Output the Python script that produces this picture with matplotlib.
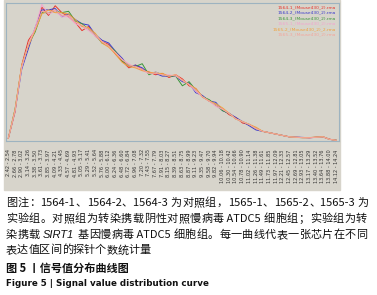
import numpy as np
import matplotlib.pyplot as plt

plt.rcParams['font.family'] = ['Noto Sans CJK SC', 'DejaVu Sans']

# bin lower edges (every other bin is labelled)
bin_lo = [2.42, 2.66, 2.90, 3.14, 3.38, 3.61, 3.85, 4.09, 4.33, 4.57,
          4.81, 5.05, 5.29, 5.52, 5.76, 6.00, 6.24, 6.48, 6.72, 6.96,
          7.20, 7.43, 7.67, 7.91, 8.15, 8.39, 8.63, 8.87, 9.11, 9.35,
          9.58, 9.82, 10.06, 10.30, 10.54, 10.78, 11.02, 11.26, 11.49, 11.73,
          11.97, 12.21, 12.45, 12.69, 12.93, 13.17, 13.40, 13.64, 13.88, 14.12]
bin_hi = [v + 0.12 for v in bin_lo]
tick_labels = ['%.2f - %.2f' % (a, b) for a, b in zip(bin_lo, bin_hi)]

names = ['1564-1_(Mouse430_2).rma', '1564-2_(Mouse430_2).rma',
         '1564-3_(Mouse430_2).rma', '1565-1_(Mouse430_2).rma',
         '1565-2_(Mouse430_2)_2.rma', '1565-3_(Mouse430_2).rma']
colors = ['#e8342c', '#3b3bcc', '#3a963a', '#f2a6cf', '#f0a23c', '#f4a59c']

s1564_1 = [0.02, 0.21, 0.55, 0.73, 0.80, 0.97, 0.91, 0.98, 0.93, 0.90,
           0.86, 0.80, 0.83, 0.76, 0.72, 0.70, 0.63, 0.58, 0.53, 0.55,
           0.52, 0.50, 0.48, 0.49, 0.46, 0.48, 0.45, 0.40, 0.38, 0.32,
           0.29, 0.26, 0.23, 0.19, 0.17, 0.13, 0.12, 0.09, 0.07, 0.06,
           0.05, 0.04, 0.03, 0.027, 0.025, 0.023, 0.028, 0.03, 0.013, 0.005]
s1564_2 = [0.02, 0.22, 0.52, 0.67, 0.82, 0.95, 0.95, 0.96, 0.90, 0.92,
           0.88, 0.85, 0.84, 0.77, 0.73, 0.71, 0.65, 0.60, 0.54, 0.55,
           0.53, 0.49, 0.49, 0.47, 0.47, 0.47, 0.43, 0.42, 0.35, 0.33,
           0.29, 0.28, 0.22, 0.20, 0.17, 0.14, 0.11, 0.08, 0.07, 0.06,
           0.05, 0.04, 0.03, 0.028, 0.026, 0.024, 0.026, 0.03, 0.012, 0.005]
s1564_3 = [0.02, 0.23, 0.54, 0.70, 0.79, 0.93, 0.93, 0.94, 0.93, 0.94,
           0.87, 0.85, 0.81, 0.77, 0.71, 0.69, 0.65, 0.58, 0.55, 0.54,
           0.56, 0.48, 0.50, 0.48, 0.47, 0.47, 0.40, 0.43, 0.37, 0.32,
           0.30, 0.26, 0.22, 0.20, 0.16, 0.14, 0.12, 0.09, 0.07, 0.06,
           0.05, 0.04, 0.03, 0.026, 0.024, 0.025, 0.027, 0.03, 0.012, 0.005]
s1565_1 = [0.02, 0.22, 0.53, 0.70, 0.82, 0.99, 0.92, 0.94, 0.90, 0.90,
           0.85, 0.83, 0.80, 0.76, 0.72, 0.68, 0.64, 0.59, 0.56, 0.53,
           0.51, 0.49, 0.50, 0.48, 0.48, 0.47, 0.44, 0.41, 0.36, 0.32,
           0.29, 0.25, 0.23, 0.20, 0.16, 0.14, 0.12, 0.09, 0.07, 0.06,
           0.05, 0.04, 0.03, 0.027, 0.024, 0.024, 0.027, 0.03, 0.012, 0.004]
s1565_2 = [0.02, 0.23, 0.55, 0.69, 0.80, 0.92, 0.95, 0.93, 0.93, 0.92,
           0.88, 0.83, 0.82, 0.78, 0.71, 0.68, 0.63, 0.57, 0.54, 0.53,
           0.51, 0.50, 0.49, 0.49, 0.47, 0.48, 0.44, 0.41, 0.38, 0.32,
           0.29, 0.27, 0.24, 0.20, 0.16, 0.14, 0.12, 0.10, 0.07, 0.06,
           0.05, 0.04, 0.03, 0.027, 0.024, 0.025, 0.028, 0.031, 0.012, 0.005]
s1565_3 = [0.02, 0.22, 0.54, 0.70, 0.81, 0.94, 0.93, 0.95, 0.91, 0.91,
           0.86, 0.84, 0.81, 0.77, 0.72, 0.69, 0.64, 0.59, 0.55, 0.54,
           0.52, 0.49, 0.49, 0.48, 0.47, 0.48, 0.44, 0.41, 0.37, 0.32,
           0.29, 0.26, 0.23, 0.20, 0.16, 0.14, 0.12, 0.09, 0.07, 0.06,
           0.05, 0.04, 0.03, 0.027, 0.024, 0.024, 0.027, 0.03, 0.012, 0.005]
series = [s1564_1, s1564_2, s1564_3, s1565_1, s1565_2, s1565_3]

W, H = 377, 295
fig = plt.figure(figsize=(W / 100, H / 100), dpi=100)
fig.patch.set_facecolor('white')

# gray panel behind plot + tick labels
panel = plt.Rectangle((4 / W, 1 - 190 / H), 336 / W, 190 / H,
                      transform=fig.transFigure, color='#d7d4cb', zorder=-5)
fig.patches.append(panel)

ax = fig.add_axes([6 / W, 1 - 141 / H, 333 / W, 138 / H])
ax.set_zorder(2)
ax.set_facecolor('#d7d4cb')
for sp in ax.spines.values():
    sp.set_color('#9db3c0')
    sp.set_linewidth(0.8)

x = np.arange(len(bin_lo))
for ys, c in zip(series, colors):
    ax.plot(x, ys, color=c, lw=0.7)

ax.set_xlim(-0.35, 49.4)
ax.set_ylim(0, 1.0)
ax.set_yticks([])
ax.set_xticks(x)
ax.set_xticklabels(tick_labels, rotation=90, fontsize=3.6, color='#333333',
                   family='DejaVu Sans')
ax.tick_params(axis='x', length=0, pad=6)

# legend text, right aligned in the top corner
for i, (n, c) in enumerate(zip(names, colors)):
    ax.text(0.99, 0.985 - i * 0.04, n, transform=ax.transAxes, ha='right',
            va='top', fontsize=3.2, color=c, family='DejaVu Sans')

# caption
fig.canvas.draw()
r = fig.canvas.get_renderer()


def tokens(s):
    out, buf = [], ''
    for ch in s:
        if ord(ch) > 0x2000:
            if buf:
                out.append(buf)
                buf = ''
            out.append(ch)
        else:
            buf += ch
    if buf:
        out.append(buf)
    return out


def line(pieces, y, width=None, size=8, color='#111111'):
    toks = []
    for txt, style in pieces:
        for t in tokens(txt):
            toks.append((t, style))
    arts = []
    for t, style in toks:
        if style == 'italic':
            a = fig.text(0, 1 - y / H, t, fontsize=size, color=color,
                         va='center', style='italic', family='Liberation Sans')
        else:
            a = fig.text(0, 1 - y / H, t, fontsize=size, color=color,
                         va='center', weight='medium')
        arts.append(a)
    ws = [a.get_window_extent(r).width for a in arts]
    gap = 0
    if width is not None and len(ws) > 1:
        gap = (width - sum(ws)) / (len(ws) - 1)
    xp = 6
    for a, w in zip(arts, ws):
        a.set_x(xp / W)
        xp += w + gap


line([('图注：1564-1、1564-2、1564-3 为对照组，1565-1、1565-2、1565-3 为', 'normal')],
     203, width=363)
line([('实验组。对照组为转染携载阴性对照慢病毒 ATDC5 细胞组；实验组为转', 'normal')],
     219, width=361)
line([('染携载 ', 'normal'), ('SIRT1', 'italic'),
      (' 基因慢病毒 ATDC5 细胞组。每一曲线代表一张芯片在不同', 'normal')],
     235, width=361)
line([('表达值区间的探针个数统计量', 'normal')], 250)
fig.text(6 / W, 1 - 268 / H, '图 5 丨信号值分布曲线图', fontsize=8,
         color='#111111', va='center', weight='bold')
fig.text(6 / W, 1 - 284 / H, 'Figure 5 | Signal value distribution curve',
         fontsize=6.3, color='#111111', va='center', weight='bold',
         family='Liberation Sans Narrow')

fig.savefig('out.png', dpi=100, facecolor='white')
